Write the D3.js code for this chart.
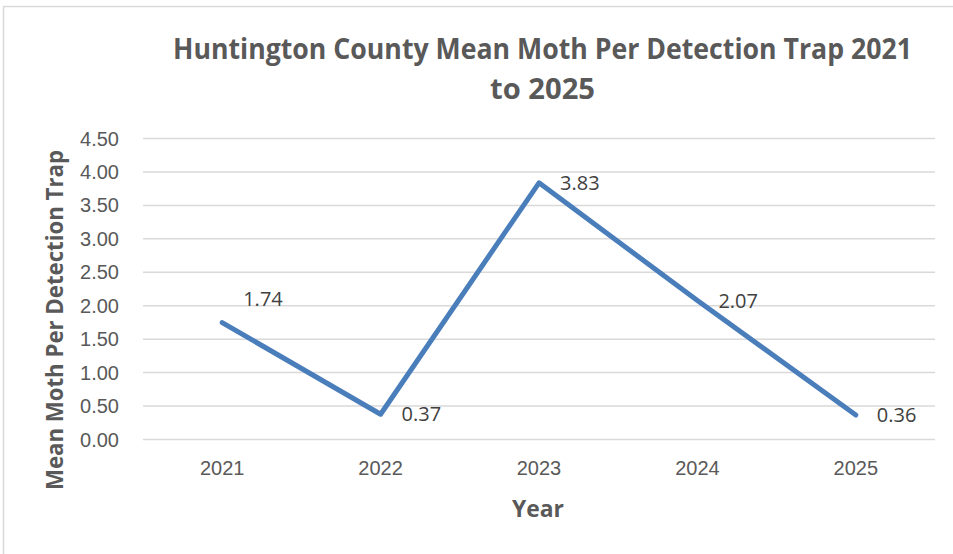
<!DOCTYPE html>
<meta charset="utf-8">
<style>
body {
  margin: 0;
  background: #fff;
  font-family: "Open Sans", sans-serif;
}
.grid line {
  stroke: #d9d9d9;
  stroke-width: 1.5;
}
.tick text {
  fill: #595959;
  font-size: 20px;
}
.label {
  fill: #404040;
  font-size: 20px;
}
</style>
<body>
<script src="https://d3js.org/d3.v7.min.js"></script>
<script>

var width = 953,
    height = 554;

var years = ["2021", "2022", "2023", "2024", "2025"];
var meanMoth = [1.74, 0.37, 3.83, 2.07, 0.36];
var yTicks = [0, 0.5, 1, 1.5, 2, 2.5, 3, 3.5, 4, 4.5];

// the 2021 label sits above the line in the original
var labelNudge = { "2021": -24 };

var plot = { left: 143, right: 935, top: 138, bottom: 439 };

var svg = d3.select("body").append("svg")
    .attr("width", width)
    .attr("height", height);

// chart frame
svg.append("rect")
    .attr("x", 3.5)
    .attr("y", 6.5)
    .attr("width", 1000)
    .attr("height", 600)
    .attr("fill", "none")
    .attr("stroke", "#d9d9d9")
    .attr("stroke-width", 1.5);

var x = d3.scaleBand()
    .domain(years)
    .range([plot.left, plot.right]);

var y = d3.scaleLinear()
    .domain([0, 4.5])
    .range([plot.bottom, plot.top]);

// gridlines + y labels
var yAxis = svg.append("g")
    .attr("class", "grid")
    .attr("transform", "translate(" + plot.left + ",0)")
    .call(d3.axisLeft(y)
      .tickValues(yTicks)
      .tickFormat(d3.format(".2f"))
      .tickSize(-(plot.right - plot.left))
      .tickPadding(24));
yAxis.select(".domain").remove();
yAxis.selectAll(".tick text").attr("dy", "0.35em");

// x labels
var xAxis = svg.append("g")
    .attr("transform", "translate(0," + plot.bottom + ")")
    .call(d3.axisBottom(x).tickSize(0).tickPadding(22));
xAxis.select(".domain").remove();
xAxis.selectAll(".tick text").attr("dy", "0.71em");

// line
var line = d3.line()
    .x(function(d, i) { return x(years[i]) + x.bandwidth() / 2; })
    .y(function(d) { return y(d); });

svg.append("path")
    .datum(meanMoth)
    .attr("d", line)
    .attr("fill", "none")
    .attr("stroke", "#4a7ebb")
    .attr("stroke-width", 5)
    .attr("stroke-linejoin", "round")
    .attr("stroke-linecap", "round");

// data labels
svg.selectAll(".label")
    .data(meanMoth)
  .enter().append("text")
    .attr("class", "label")
    .attr("x", function(d, i) { return x(years[i]) + x.bandwidth() / 2 + 21; })
    .attr("y", function(d, i) { return y(d) + (labelNudge[years[i]] || 0); })
    .attr("dy", "0.35em")
    .text(function(d) { return d3.format(".2f")(d); });

// title
var title = svg.append("text")
    .attr("text-anchor", "middle")
    .attr("fill", "#595959")
    .attr("font-weight", "bold")
    .attr("font-size", "29px");
title.append("tspan")
    .attr("x", 542.5)
    .attr("y", 59)
    .attr("textLength", 739)
    .attr("lengthAdjust", "spacingAndGlyphs")
    .text("Huntington County Mean Moth Per Detection Trap 2021");
title.append("tspan")
    .attr("x", 542.5)
    .attr("y", 99)
    .attr("textLength", 105)
    .attr("lengthAdjust", "spacingAndGlyphs")
    .text("to 2025");

// axis titles
svg.append("text")
    .attr("transform", "translate(63,320) rotate(-90)")
    .attr("text-anchor", "middle")
    .attr("fill", "#595959")
    .attr("font-weight", "bold")
    .attr("font-size", "23px")
    .attr("textLength", 340)
    .attr("lengthAdjust", "spacingAndGlyphs")
    .text("Mean Moth Per Detection Trap");

svg.append("text")
    .attr("x", 538)
    .attr("y", 517)
    .attr("text-anchor", "middle")
    .attr("fill", "#595959")
    .attr("font-weight", "bold")
    .attr("font-size", "23px")
    .attr("textLength", 52)
    .attr("lengthAdjust", "spacingAndGlyphs")
    .text("Year");

</script>
